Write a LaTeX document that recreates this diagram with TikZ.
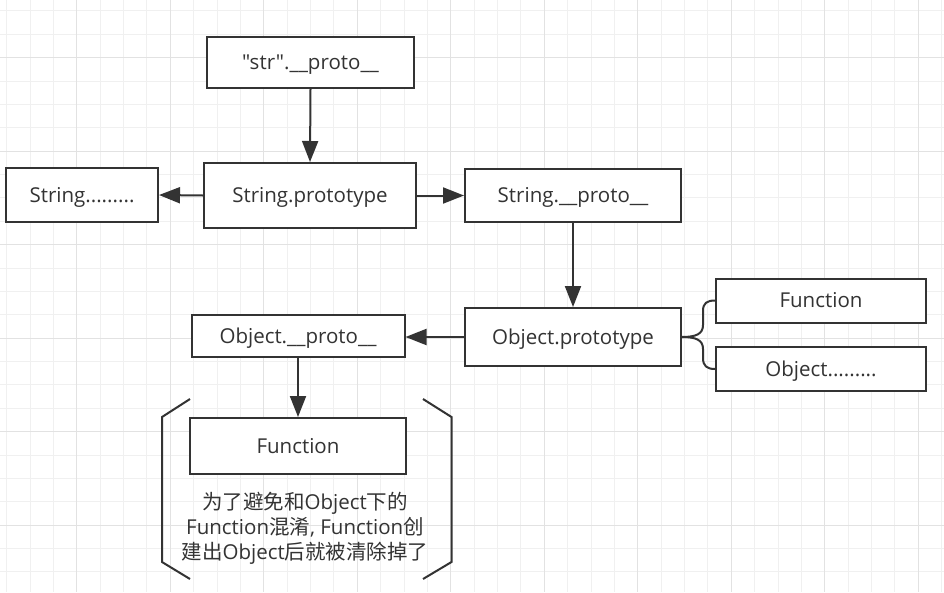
\documentclass[tikz,border=0pt]{standalone}
\usepackage{fontspec}
\setmainfont{Open Sans}[Ligatures=TeXOff]
\newfontfamily\cjk{Noto Sans CJK SC}
\usetikzlibrary{arrows.meta}
\definecolor{gridminor}{HTML}{F0F0F0}
\definecolor{gridmajor}{HTML}{E2E2E2}
\definecolor{ink}{HTML}{333333}
\tikzset{
  box/.style={draw=ink, line width=2pt, fill=white, inner sep=0pt, font=\fontsize{20.5}{25}\selectfont, text=ink, text height=14.6pt, text depth=0pt},
  arr/.style={draw=ink, line width=2pt, -{Triangle[length=21pt,width=16pt]}},
  bracket/.style={draw=ink, line width=2pt},
}
\begin{document}
\begin{tikzpicture}[x=1pt,y=-1pt]
\useasboundingbox (0,0) rectangle (944,592);
\fill[white] (0,0) rectangle (944,592);
% grid
\foreach \i in {0,...,40} {
  \draw[gridminor, line width=1pt] ({6.7+23.375*\i},0) -- ({6.7+23.375*\i},592);
}
\foreach \i in {0,...,25} {
  \draw[gridminor, line width=1pt] (0,{10.95+23.375*\i}) -- (944,{10.95+23.375*\i});
}
\foreach \i in {0,...,9} {
  \draw[gridmajor, line width=1pt] ({76.8+93.5*\i},0) -- ({76.8+93.5*\i},592);
}
\foreach \i in {0,...,6} {
  \draw[gridmajor, line width=1pt] (0,{57.7+93.5*\i}) -- (944,{57.7+93.5*\i});
}
% nodes
\node[box, minimum width=207pt, minimum height=51pt] (str) at (310.5,62.5) {"str".\_\_proto\_\_};
\node[box, minimum width=212pt, minimum height=65pt] (sp) at (310,195.5) {String.prototype};
\node[box, minimum width=152pt, minimum height=54pt] (sdots) at (82,195) {String.........};
\node[box, minimum width=216pt, minimum height=53pt] (sproto) at (573,195.5) {String.\_\_proto\_\_};
\node[box, minimum width=216pt, minimum height=58pt] (op) at (573,337) {Object.prototype};
\node[box, minimum width=210pt, minimum height=44pt] (fr) at (821,300.5) {Function};
\node[box, minimum width=210pt, minimum height=44pt] (or) at (821,369) {Object.........};
\node[box, minimum width=213pt, minimum height=42pt] (oproto) at (298,336) {Object.\_\_proto\_\_};
\node[box, minimum width=216pt, minimum height=56pt] (fn) at (298,446) {Function};
\node[align=center, text=ink, font=\fontsize{20.5}{25}\selectfont, inner sep=0pt] (note) at (305,528)
  {{\cjk 为了避免和}Object{\cjk 下的}\\Function{\cjk 混淆}, Function{\cjk 创}\\{\cjk 建出}Object{\cjk 后就被清除掉了}};
% arrows
\draw[arr] (str.south) -- (sp.north);
\draw[arr] (sp.west) -- (sdots.east);
\draw[arr] (sp.east) -- (sproto.west);
\draw[arr] (sproto.south) -- (op.north);
\draw[arr] (op.west) -- (op.west -| oproto.east);
\draw[arr] (oproto.south) -- (fn.north);
% brace
\draw[bracket] (op.east) .. controls +(14,0) and (703,334) .. (703,325) -- (703,311)
  .. controls (703,303) and (707,300.5) .. (fr.west);
\draw[bracket] (op.east) .. controls +(14,0) and (703,340) .. (703,349) -- (703,358)
  .. controls (703,366) and (707,369) .. (or.west);
% side brackets
\coordinate (lb1) at (190,399);
\coordinate (lb2) at (162,417);
\coordinate (lb3) at (162,562);
\coordinate (lb4) at (190,579);
\draw[bracket] (lb1) -- (lb2) -- (lb3) -- (lb4);
\coordinate (rb1) at (423,399);
\coordinate (rb2) at (451.5,417);
\coordinate (rb3) at (451.5,562);
\coordinate (rb4) at (423,579);
\draw[bracket] (rb1) -- (rb2) -- (rb3) -- (rb4);
\end{tikzpicture}
\end{document}
